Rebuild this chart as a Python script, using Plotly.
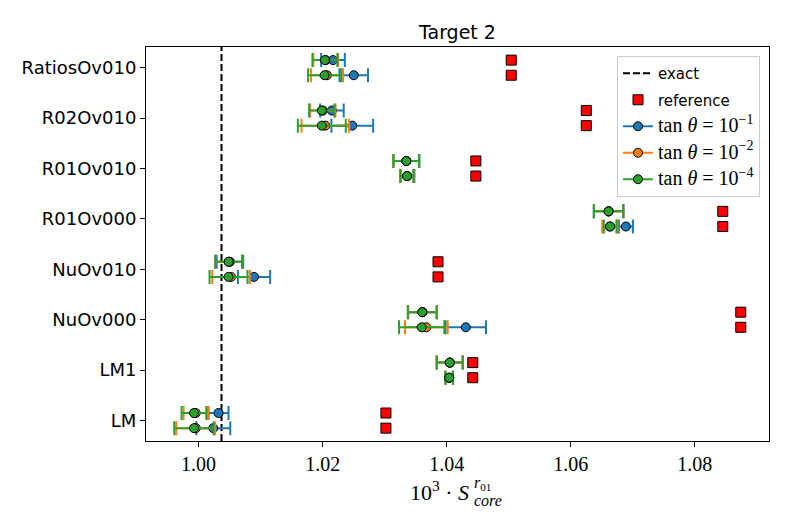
import numpy as np
import plotly.graph_objects as go

# ---------------- data ----------------
categories = ["LM", "LM1", "NuOv000", "NuOv010", "R01Ov000", "R01Ov010", "R02Ov010", "RatiosOv010"]
exact_value = 1.0037
reference = [1.0302, 1.0442, 1.0874, 1.0386, 1.0845, 1.0447, 1.0625, 1.0504]

# upper row of each category
tan1_upper = [1.00322, 1.0405, 1.0361, 1.00506, 1.0661, 1.0335, 1.0215, 1.02167]
tan1_upper_err = [0.00161, 0.0021, 0.0023, 0.00214, 0.0024, 0.0021, 0.0019, 0.00191]
tan2_upper = [0.99955, 1.04048, 1.0361, 1.00486, 1.0661, 1.03348, 1.02003, 1.0205]
tan2_upper_err = [0.00196, 0.0021, 0.00233, 0.00217, 0.00236, 0.00206, 0.00204, 0.0020]
tan4_upper = [0.99926, 1.04048, 1.03605, 1.00486, 1.06609, 1.03348, 1.01987, 1.02037]
tan4_upper_err = [0.00199, 0.00209, 0.00233, 0.00217, 0.00236, 0.00206, 0.00204, 0.00201]

# lower row of each category
tan1_lower = [1.00237, 1.0404, 1.04308, 1.00894, 1.06888, 1.03364, 1.02478, 1.02502]
tan1_lower_err = [0.00274, 0.0006, 0.00325, 0.0026, 0.00113, 0.00115, 0.00336, 0.0023]
tan2_lower = [0.99955, 1.0404, 1.03672, 1.00524, 1.0663, 1.0336, 1.02043, 1.0207]
tan2_lower_err = [0.00314, 0.0006, 0.00344, 0.00303, 0.00122, 0.00105, 0.00384, 0.00258]
tan4_lower = [0.99926, 1.0404, 1.03597, 1.00483, 1.06634, 1.0336, 1.01987, 1.02032]
tan4_lower_err = [0.00317, 0.00061, 0.00365, 0.00306, 0.00102, 0.00102, 0.00386, 0.00266]

x_ticks = [1.00, 1.02, 1.04, 1.06, 1.08]
x_ticklabels = ["1.00", "1.02", "1.04", "1.06", "1.08"]

# ---------------- styling ----------------
C0, C1, C2 = "#1f77b4", "#ff7f0e", "#2ca02c"
SANS = "DejaVu Sans"
SERIF = "Liberation Serif"
row_off = 0.15

idx = np.arange(len(categories))
y_up = idx + row_off
y_lo = idx - row_off

fig = go.Figure()

# reference squares
fig.add_trace(go.Scatter(
    x=reference + reference, y=list(y_up) + list(y_lo), mode="markers",
    marker=dict(symbol="square", size=10, color="#ff0000", line=dict(color="black", width=1)),
    showlegend=False, hoverinfo="skip"))

series = [
    (C0, tan1_upper, tan1_upper_err, tan1_lower, tan1_lower_err),
    (C1, tan2_upper, tan2_upper_err, tan2_lower, tan2_lower_err),
    (C2, tan4_upper, tan4_upper_err, tan4_lower, tan4_lower_err),
]
for col, up, upe, lo, loe in series:
    fig.add_trace(go.Scatter(
        x=up + lo, y=list(y_up) + list(y_lo), mode="markers",
        marker=dict(symbol="circle", size=9, color=col, line=dict(color="black", width=1)),
        error_x=dict(type="data", array=upe + loe, color=col, thickness=2, width=7),
        showlegend=False, hoverinfo="skip"))

# exact line
fig.add_shape(type="line", xref="x", yref="paper", x0=exact_value, x1=exact_value, y0=0, y1=1,
              line=dict(color="black", width=2, dash="7px,3px"), layer="below")

# legend entries
math = '<span style="font-family:Liberation Serif;font-size:20px">tan <i>θ</i> = 10<sup>−%s</sup></span>'
legend_names = ["exact", "reference", math % "1", math % "2", math % "4"]
fig.add_trace(go.Scatter(x=[None], y=[None], mode="lines", name=legend_names[0], legendgroup="a",
                         line=dict(color="black", width=2, dash="7px,3px")))
fig.add_trace(go.Scatter(x=[None], y=[None], mode="markers", name=legend_names[1], legendgroup="b",
                         marker=dict(symbol="square", size=10, color="#ff0000", line=dict(color="black", width=1))))
for (col, *_), nm, g in zip(series, legend_names[2:], ["c", "d", "e"]):
    fig.add_trace(go.Scatter(x=[None], y=[None], mode="lines+markers", name=nm, legendgroup=g,
                             line=dict(color=col, width=2),
                             marker=dict(symbol="circle", size=9, color=col, line=dict(color="black", width=1))))

# x-axis label built from pieces
L, R, T, B, W, H = 146, 20, 47, 85, 789, 526
pw, ph = W - L - R, H - T - B
def px(xp): return (xp - L) / pw
def py(yp): return (H - B - yp) / ph

fig.add_annotation(text="10<sup>3</sup> · <i>S</i>", xref="paper", yref="paper", x=px(471), y=py(491),
                   xanchor="right", yanchor="middle", showarrow=False,
                   font=dict(family=SERIF, size=22, color="black"))
fig.add_annotation(text="<i>r</i><sub>01</sub>", xref="paper", yref="paper", x=px(472), y=py(483),
                   xanchor="left", yanchor="middle", showarrow=False,
                   font=dict(family=SERIF, size=16, color="black"))
fig.add_annotation(text="<i>core</i>", xref="paper", yref="paper", x=px(472), y=py(500),
                   xanchor="left", yanchor="middle", showarrow=False,
                   font=dict(family=SERIF, size=16, color="black"))

fig.update_layout(
    width=W, height=H, margin=dict(l=L, r=R, t=T, b=B),
    plot_bgcolor="white", paper_bgcolor="white",
    title=dict(text="Target 2", x=0.5, xref="paper", xanchor="center",
               y=1 - 32 / H, yref="container", yanchor="middle",
               font=dict(family=SANS, size=19, color="black")),
    legend=dict(x=px(760), y=py(56), xanchor="right", yanchor="top",
                bgcolor="rgba(255,255,255,0.8)", bordercolor="#cccccc", borderwidth=1,
                font=dict(family=SANS, size=15, color="black"),
                traceorder="grouped", tracegroupgap=4, itemwidth=30),
    showlegend=True,
)
fig.update_xaxes(range=[0.99153, 1.09195], tickvals=x_ticks, ticktext=x_ticklabels,
                 showgrid=False, zeroline=False, showline=True, mirror=True, linecolor="black", linewidth=1,
                 ticks="outside", ticklen=5, tickwidth=1, tickcolor="black",
                 tickfont=dict(family=SERIF, size=20, color="black"))
fig.update_yaxes(range=[-0.405, 7.41], tickvals=list(idx), ticktext=categories,
                 showgrid=False, zeroline=False, showline=True, mirror=True, linecolor="black", linewidth=1,
                 ticks="outside", ticklen=5, tickwidth=1, tickcolor="black",
                 tickfont=dict(family=SANS, size=18, color="black"))

fig.write_html("out.html", config={"displayModeBar": False},
               post_script="document.body.style.margin='0';")
